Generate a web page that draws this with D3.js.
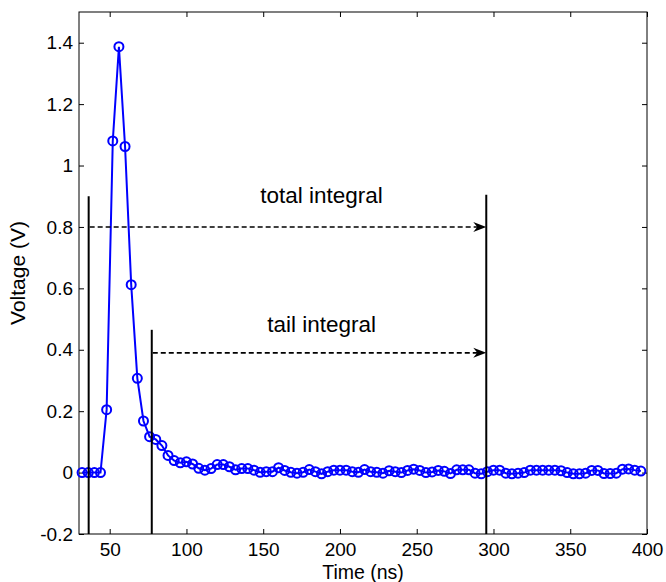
<!DOCTYPE html>
<meta charset="utf-8">
<script src="https://d3js.org/d3.v7.min.js"></script>
<style>
  body { margin: 0; background: #fff; }
  text { font-family: "Liberation Sans", Arial, sans-serif; fill: #000; }
</style>
<div id="chart"></div>
<script>
// sample times (ns) and measured voltage (V)
const times = [32, 36, 40, 44, 48, 52, 56, 60, 64, 68, 72, 76, 80, 84, 88, 92, 96, 100,
  104, 108, 112, 116, 120, 124, 128, 132, 136, 140, 144, 148, 152, 156, 160, 164, 168,
  172, 176, 180, 184, 188, 192, 196, 200, 204, 208, 212, 216, 220, 224, 228, 232, 236,
  240, 244, 248, 252, 256, 260, 264, 268, 272, 276, 280, 284, 288, 292, 296, 300, 304,
  308, 312, 316, 320, 324, 328, 332, 336, 340, 344, 348, 352, 356, 360, 364, 368, 372,
  376, 380, 384, 388, 392, 396];
const voltage = [0, 0, 0, 0, 0.205, 1.08, 1.387, 1.062, 0.612, 0.307, 0.168, 0.117, 0.108,
  0.088, 0.056, 0.039, 0.032, 0.035, 0.028, 0.014, 0.008, 0.013, 0.026, 0.026, 0.019,
  0.009, 0.013, 0.013, 0.008, 0.001, 0.003, 0.003, 0.016, 0.007, 0.001, -0.002, 0.001,
  0.010, 0.003, -0.004, 0.003, 0.008, 0.008, 0.008, 0.003, 0.001, 0.010, 0.003, 0.001,
  -0.002, 0.006, 0.003, 0.000, 0.007, 0.011, 0.007, 0.000, 0.002, 0.007, 0.004, -0.003,
  0.009, 0.009, 0.009, -0.002, -0.004, 0.003, 0.008, 0.008, -0.002, -0.004, -0.002, 0.000,
  0.008, 0.008, 0.008, 0.008, 0.008, 0.006, 0.000, -0.004, -0.004, -0.002, 0.007, 0.007,
  -0.003, -0.003, -0.002, 0.011, 0.012, 0.008, 0.005];

const xTicks = [50, 100, 150, 200, 250, 300, 350, 400];
const yTicks = [-0.2, 0, 0.2, 0.4, 0.6, 0.8, 1, 1.2, 1.4];

// integration window markers: [time, top voltage]
const gates = [[36.3, 0.9], [77.4, 0.465], [295.3, 0.905]];
// arrows: start time, end time, level, label
const arrows = [
  {from: 36.3, to: 295.3, v: 0.8, label: "total integral", lv: 0.878},
  {from: 77.4, to: 295.3, v: 0.39, label: "tail integral", lv: 0.459}
];

const margin = {top: 12, right: 19, bottom: 48, left: 79},
    width = 666 - margin.left - margin.right,
    height = 582 - margin.top - margin.bottom;

const svg = d3.select("#chart")
  .append("svg")
    .attr("width", 666)
    .attr("height", 582)
  .append("g")
    .attr("transform", `translate(${margin.left},${margin.top})`);

const x = d3.scaleLinear().domain([30, 400]).range([0, width]);
const y = d3.scaleLinear().domain([-0.2, 1.5]).range([height, 0]);

const fmt = d => String(+d.toFixed(1));

// axes (ticks pointing inward, mirrored on top/right)
svg.append("g")
  .attr("transform", `translate(0,${height})`)
  .call(d3.axisBottom(x).tickValues(xTicks).tickSize(-5).tickSizeOuter(0).tickPadding(9).tickFormat(fmt));
svg.append("g")
  .call(d3.axisLeft(y).tickValues(yTicks).tickSize(-5).tickSizeOuter(0).tickPadding(6).tickFormat(fmt));
svg.append("g")
  .call(d3.axisTop(x).tickValues(xTicks).tickSize(-5).tickSizeOuter(0).tickFormat(""));
svg.append("g")
  .attr("transform", `translate(${width},0)`)
  .call(d3.axisRight(y).tickValues(yTicks).tickSize(-5).tickSizeOuter(0).tickFormat(""));
svg.selectAll(".domain").remove();
svg.selectAll(".tick line").attr("stroke", "#000");
svg.selectAll(".tick text").style("font-size", "19px");

svg.append("rect")
  .attr("width", width)
  .attr("height", height)
  .attr("fill", "none")
  .attr("stroke", "#000")
  .attr("stroke-width", 1);

// signal
const pts = times.map((t, i) => [t, voltage[i]]);
svg.append("path")
  .datum(pts)
  .attr("fill", "none")
  .attr("stroke", "#0000ff")
  .attr("stroke-width", 2)
  .attr("d", d3.line().x(d => x(d[0])).y(d => y(d[1])));
svg.selectAll("circle.pt")
  .data(pts)
  .join("circle")
    .attr("class", "pt")
    .attr("cx", d => x(d[0]))
    .attr("cy", d => y(d[1]))
    .attr("r", 4.5)
    .attr("fill", "none")
    .attr("stroke", "#0000ff")
    .attr("stroke-width", 2);

// gate lines
svg.selectAll("line.gate")
  .data(gates)
  .join("line")
    .attr("class", "gate")
    .attr("x1", d => x(d[0])).attr("x2", d => x(d[0]))
    .attr("y1", height).attr("y2", d => y(d[1]))
    .attr("stroke", "#000")
    .attr("stroke-width", 2);

// dashed arrows
svg.selectAll("line.arrow")
  .data(arrows)
  .join("line")
    .attr("class", "arrow")
    .attr("x1", d => x(d.from) + 1).attr("x2", d => x(d.to) - 8)
    .attr("y1", d => y(d.v)).attr("y2", d => y(d.v))
    .attr("stroke", "#000")
    .attr("stroke-width", 1.6)
    .attr("stroke-dasharray", "5,3");
svg.selectAll("path.head")
  .data(arrows)
  .join("path")
    .attr("class", "head")
    .attr("transform", d => `translate(${x(d.to)},${y(d.v)})`)
    .attr("d", "M0,0 L-13,-5 L-9,0 L-13,5 Z")
    .attr("fill", "#000");
svg.selectAll("text.lbl")
  .data(arrows)
  .join("text")
    .attr("class", "lbl")
    .attr("x", d => x(188))
    .attr("y", d => y(d.lv))
    .attr("text-anchor", "middle")
    .style("font-size", "22.5px")
    .text(d => d.label);

// axis labels
svg.append("text")
  .attr("x", width / 2)
  .attr("y", height + 45)
  .attr("text-anchor", "middle")
  .style("font-size", "19.5px")
  .text("Time (ns)");
svg.append("text")
  .attr("transform", `translate(${25 - margin.left},${height / 2}) rotate(-90)`)
  .attr("text-anchor", "middle")
  .style("font-size", "21px")
  .text("Voltage (V)");
</script>
